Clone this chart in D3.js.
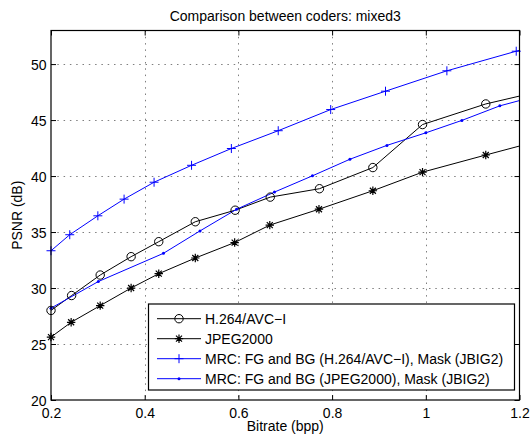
<!DOCTYPE html>
<meta charset="utf-8">
<script src="https://cdn.jsdelivr.net/npm/d3@7/dist/d3.min.js"></script>
<style>
  body { margin: 0; background: #fff; }
  text { font-family: "Liberation Sans", Arial, Helvetica, sans-serif; fill: #000; }
</style>
<div id="js_chart"></div>
<script>

// ******************************************
// Data
// ******************************************
const h264Rate = [0.2, 0.244, 0.305, 0.371, 0.430, 0.508, 0.593, 0.668, 0.773, 0.887, 0.993, 1.128, 1.26];
const h264Psnr = [28.0, 29.33, 31.16, 32.8, 34.14, 35.92, 36.95, 38.12, 38.87, 40.76, 44.6, 46.44, 47.73];

const jpegRate = [0.2, 0.243, 0.305, 0.371, 0.430, 0.508, 0.592, 0.667, 0.772, 0.887, 0.993, 1.128, 1.26];
const jpegPsnr = [25.62, 26.94, 28.43, 30.0, 31.28, 32.68, 34.06, 35.62, 37.04, 38.69, 40.35, 41.88, 43.35];

const mrcH264Rate = [0.2, 0.240, 0.300, 0.356, 0.420, 0.500, 0.585, 0.685, 0.797, 0.914, 1.045, 1.193, 1.34];
const mrcH264Psnr = [33.33, 34.76, 36.45, 37.94, 39.45, 40.96, 42.46, 44.05, 45.94, 47.58, 49.4, 51.15, 52.85];

const mrcJpegRate = [0.2, 0.301, 0.440, 0.518, 0.596, 0.677, 0.758, 0.838, 0.917, 1.0, 1.077, 1.158, 1.238];
const mrcJpegPsnr = [28.2, 30.58, 33.1, 35.1, 37.03, 38.57, 40.02, 41.5, 42.74, 43.86, 44.97, 46.27, 47.17];

const seriesNames = [
    "H.264/AVC\u2212I",
    "JPEG2000",
    "MRC: FG and BG (H.264/AVC\u2212I), Mask (JBIG2)",
    "MRC: FG and BG (JPEG2000), Mask (JBIG2)"
];

const xTicks = [0.2, 0.4, 0.6, 0.8, 1.0, 1.2];
const xTickLabels = ["0.2", "0.4", "0.6", "0.8", "1", "1.2"];
const yTicks = [20, 25, 30, 35, 40, 45, 50];

const titleText = "Comparison between coders: mixed3";
const xLabel = "Bitrate (bpp)";
const yLabel = "PSNR (dB)";

// ******************************************
function zip(xs, ys) {
    return xs.map(function (x, i) { return {x: x, y: ys[i]}; });
}

const series = [
    {name: seriesNames[0], color: "#000", marker: "circle", data: zip(h264Rate, h264Psnr)},
    {name: seriesNames[1], color: "#000", marker: "star", data: zip(jpegRate, jpegPsnr)},
    {name: seriesNames[2], color: "#0000ff", marker: "plus", data: zip(mrcH264Rate, mrcH264Psnr)},
    {name: seriesNames[3], color: "#0000ff", marker: "dot", data: zip(mrcJpegRate, mrcJpegPsnr)}
];

createPlot();

function drawMarker(g, type, color) {
    if (type === "circle") {
        g.append("circle").attr("r", 4.2).attr("fill", "none")
            .attr("stroke", color).attr("stroke-width", 1);
    } else if (type === "star") {
        g.append("path")
            .attr("d", "M-4.2,0H4.2M0,-4.2V4.2M-3,-3L3,3M-3,3L3,-3")
            .attr("stroke", color).attr("stroke-width", 1.2);
    } else if (type === "plus") {
        g.append("path")
            .attr("d", "M-4.5,0H4.5M0,-4.5V4.5")
            .attr("stroke", color).attr("stroke-width", 1);
    } else if (type === "dot") {
        g.append("circle").attr("r", 1.5).attr("fill", color);
    }
}

function createPlot() {
    // ******************************************************
    // Settings
    // ******************************************************
    let width = 530,
        height = 441,
        plot = {left: 51, right: 519.5, top: 30.5, bottom: 400};

    let x = d3.scaleLinear().domain([0.2, 1.2]).range([plot.left, plot.right]);
    let y = d3.scaleLinear().domain([20, 53]).range([plot.bottom, plot.top]);

    let svg = d3.select("#js_chart")
        .append("svg")
        .attr("width", width)
        .attr("height", height);

    svg.append("clipPath").attr("id", "clip")
        .append("rect")
        .attr("x", plot.left).attr("y", plot.top)
        .attr("width", plot.right - plot.left)
        .attr("height", plot.bottom - plot.top);

    // grid
    let grid = svg.append("g")
        .attr("stroke", "#000")
        .attr("stroke-opacity", 0.5)
        .attr("stroke-width", 1)
        .attr("stroke-dasharray", "1.5,4.8");

    grid.selectAll("line.gx")
        .data(xTicks.slice(1, -1))
        .enter().append("line")
        .attr("x1", function (d) { return Math.round(x(d)) + 0.5; })
        .attr("x2", function (d) { return Math.round(x(d)) + 0.5; })
        .attr("y1", plot.top)
        .attr("y2", plot.bottom);

    grid.selectAll("line.gy")
        .data(yTicks.slice(1))
        .enter().append("line")
        .attr("y1", function (d) { return Math.round(y(d)) + 0.5; })
        .attr("y2", function (d) { return Math.round(y(d)) + 0.5; })
        .attr("x1", plot.left)
        .attr("x2", plot.right);

    // axes, ticks inside on all four sides
    let tickLen = 5;
    let axisBottom = d3.axisBottom(x).tickValues(xTicks).tickSizeInner(-tickLen).tickSizeOuter(0)
        .tickFormat(function (d, i) { return xTickLabels[i]; }).tickPadding(10);
    let axisTop = d3.axisTop(x).tickValues(xTicks).tickSizeInner(-tickLen).tickSizeOuter(0).tickFormat("");
    let axisLeft = d3.axisLeft(y).tickValues(yTicks).tickSizeInner(-tickLen).tickSizeOuter(0).tickPadding(10);
    let axisRight = d3.axisRight(y).tickValues(yTicks).tickSizeInner(-tickLen).tickSizeOuter(0).tickFormat("");

    function styleAxis(g) {
        g.select(".domain").remove();
        g.selectAll(".tick line").attr("stroke", "#000");
        g.selectAll(".tick text")
            .style("font-family", "'Liberation Sans', Arial, sans-serif")
            .style("font-size", "14px")
            .attr("fill", "#000");
    }

    svg.append("g").attr("transform", "translate(0," + plot.bottom + ")").call(axisBottom).call(styleAxis)
        .selectAll(".tick text").attr("dy", "0.71em").attr("y", 8.5);
    svg.append("g").attr("transform", "translate(0," + plot.top + ")").call(axisTop).call(styleAxis);
    svg.append("g").attr("transform", "translate(" + plot.left + ",0)").call(axisLeft).call(styleAxis)
        .selectAll(".tick text").attr("x", -4.5).attr("dy", "0.36em");
    svg.append("g").attr("transform", "translate(" + plot.right + ",0)").call(axisRight).call(styleAxis);

    // lines
    let line = d3.line()
        .x(function (d) { return x(d.x); })
        .y(function (d) { return y(d.y); });

    let plotG = svg.append("g").attr("id", "g_plot");

    plotG.append("g").attr("clip-path", "url(#clip)")
        .selectAll("path")
        .data(series)
        .enter()
        .append("path")
        .attr("d", function (s) { return line(s.data); })
        .attr("fill", "none")
        .attr("stroke", function (s) { return s.color; })
        .attr("stroke-width", 1);

    // markers (only points inside the axes, drawn whole)
    series.forEach(function (s) {
        plotG.append("g")
            .selectAll("g")
            .data(s.data.filter(function (d) { return d.x <= 1.2 + 1e-9 && d.y <= 53; }))
            .enter()
            .append("g")
            .attr("transform", function (d) { return "translate(" + x(d.x) + "," + y(d.y) + ")"; })
            .each(function () { drawMarker(d3.select(this), s.marker, s.color); });
    });

    // box
    svg.append("rect")
        .attr("x", plot.left).attr("y", plot.top)
        .attr("width", plot.right - plot.left)
        .attr("height", plot.bottom - plot.top)
        .attr("fill", "none")
        .attr("stroke", "#000")
        .attr("stroke-width", 1.2);

    // legend
    let legend = svg.append("g").attr("transform", "translate(148.5,304)");
    legend.append("rect")
        .attr("width", 366).attr("height", 86)
        .attr("fill", "#fff").attr("stroke", "#000").attr("stroke-width", 1.2);

    let item = legend.selectAll("g.item")
        .data(series)
        .enter().append("g")
        .attr("class", "item")
        .attr("transform", function (d, i) { return "translate(0," + (14.7 + i * 20) + ")"; });

    item.append("line")
        .attr("x1", 8.5).attr("x2", 52.5)
        .attr("stroke", function (s) { return s.color; })
        .attr("stroke-width", 1);

    item.append("g")
        .attr("transform", "translate(30.5,0)")
        .each(function (s) { drawMarker(d3.select(this), s.marker, s.color); });

    item.append("text")
        .attr("x", 56.5)
        .attr("dy", "0.36em")
        .style("font-size", "14px")
        .text(function (s) { return s.name; });

    // labels
    svg.append("text")
        .attr("x", (plot.left + plot.right) / 2)
        .attr("y", 20.5)
        .attr("text-anchor", "middle")
        .style("font-size", "14px")
        .text(titleText);

    svg.append("text")
        .attr("x", (plot.left + plot.right) / 2)
        .attr("y", 431)
        .attr("text-anchor", "middle")
        .style("font-size", "14px")
        .text(xLabel);

    svg.append("text")
        .attr("transform", "translate(22," + ((plot.top + plot.bottom) / 2) + ") rotate(-90)")
        .attr("text-anchor", "middle")
        .style("font-size", "14px")
        .text(yLabel);
}

</script>
